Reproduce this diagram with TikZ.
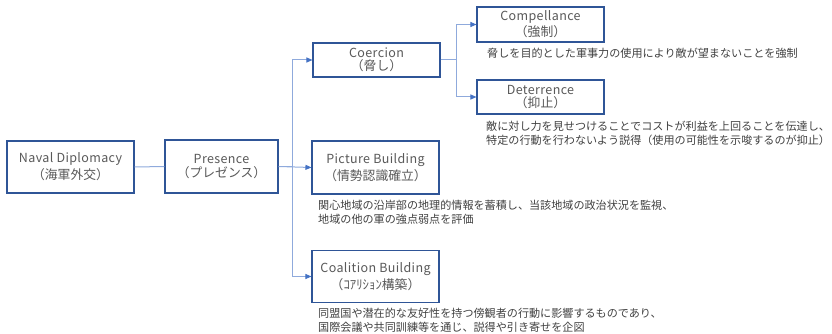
\documentclass[tikz,border=0pt]{standalone}
\usepackage{fontspec}
\setmainfont{Noto Sans CJK JP}
\usetikzlibrary{arrows.meta}
\definecolor{boxblue}{HTML}{2F5597}
\definecolor{lineblue}{HTML}{8FAADC}
\definecolor{tipblue}{HTML}{4472C4}
\definecolor{txtgray}{HTML}{595959}
\definecolor{desgray}{HTML}{404040}
\newcommand{\lat}[1]{{\fontsize{12.5}{15}\selectfont\addfontfeatures{LetterSpace=3}#1}}
\newcommand{\jp}[1]{{\fontsize{12.8}{15}\selectfont #1}}
\begin{document}
\begin{tikzpicture}[x=1pt,y=-1pt,
  box/.style={draw=boxblue,line width=1.1pt,fill=white,minimum width=127pt,text=txtgray,align=center,inner sep=0pt},
  conn/.style={draw=lineblue,line width=1pt},
  arr/.style={conn,-{Triangle[length=6pt,width=5pt,fill=tipblue,color=tipblue]}},
  desc/.style={anchor=west,align=left,inner sep=0pt,text=desgray,font=\fontsize{11.1}{14}\selectfont}
]
\useasboundingbox (0,0) rectangle (832,334);
\node[box,minimum height=52pt] (naval) at (70.5,167) {\lat{Naval Diplomacy}\\[2pt]\jp{（海軍外交）}};
\node[box,minimum width=113pt,minimum height=53pt] (presence) at (221.5,166.5) {\lat{Presence}\\[2pt]\jp{（プレゼンス）}};
\node[box,minimum height=34pt] (coercion) at (376.5,60) {\lat{Coercion}\\[1pt]\jp{（脅し）}};
\node[box,minimum height=53pt] (picture) at (375.5,167.5) {\lat{Picture Building}\\[2pt]\jp{（情勢認識確立）}};
\node[box,minimum height=52pt] (coalition) at (375.5,276.5) {\lat{Coalition Building}\\[2pt]\jp{（ｺｱﾘｼｮﾝ構築）}};
\node[box,minimum height=35pt] (compel) at (540.5,24.5) {\lat{Compellance}\\[1pt]\jp{（強制）}};
\node[box,minimum height=34pt] (deter) at (540.5,97) {\lat{Deterrence}\\[1pt]\jp{（抑止）}};

\node[desc] (dcompel) at (487,53) {脅しを目的とした軍事力の使用により敵が望まないことを強制};
\node[desc] (ddeter) at (486,133) {敵に対し力を見せつけることでコストが利益を上回ることを伝達し、\\特定の行動を行わないよう説得（使用の可能性を示唆するのが抑止）};
\node[desc] (dpicture) at (318,212) {関心地域の沿岸部の地理的情報を蓄積し、当該地域の政治状況を監視、\\地域の他の軍の強点弱点を評価};
\node[desc] (dcoal) at (318,320) {同盟国や潜在的な友好性を持つ傍観者の行動に影響するものであり、\\国際会議や共同訓練等を通じ、説得や引き寄せを企図};

\coordinate (bus1) at (292,0);
\coordinate (bus2) at (456,0);
\draw[conn] (naval.east) -- (presence.west);
\draw[arr] (presence.east) -- (bus1 |- presence.east) |- (coercion.west);
\draw[arr] (presence.east) -- (picture.west);
\draw[arr] (presence.east) -- (bus1 |- presence.east) |- (coalition.west);
\draw[arr] (coercion.east) -- (bus2 |- coercion.east) |- (compel.west);
\draw[arr] (coercion.east) -- (bus2 |- coercion.east) |- (deter.west);
\end{tikzpicture}
\end{document}
